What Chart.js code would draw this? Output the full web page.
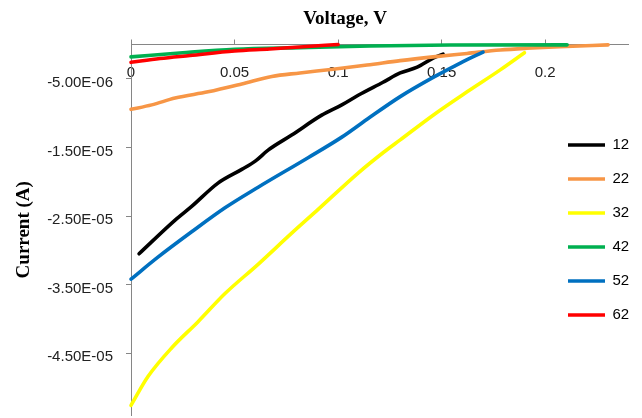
<!DOCTYPE html>
<html>
<head>
<meta charset="utf-8">
<script src="https://cdn.jsdelivr.net/npm/chart.js@4.4.1/dist/chart.umd.min.js"></script>
<style>
  html, body { margin: 0; padding: 0; background: #fff; overflow: hidden; }
  #wrap { position: relative; width: 642px; height: 418px; }
</style>
</head>
<body>
<div id="wrap"><canvas id="c"></canvas></div>
<script>
// ---- data (Voltage in V, Current in A) ----
const seriesNames = ['12', '22', '32', '42', '52', '62'];
const seriesColors = ['#000000', '#F79646', '#FFFF00', '#00B050', '#0070C0', '#FF0000'];

const volt12 = [0.0039, 0.0213, 0.0293, 0.042, 0.0535, 0.060, 0.0662, 0.0776, 0.0921, 0.1018, 0.1097, 0.1217, 0.130, 0.1382, 0.1459, 0.1507];
const curr12 = [-3.05e-5, -2.56e-5, -2.36e-5, -2.02e-5, -1.82e-5, -1.70e-5, -1.54e-5, -1.32e-5, -1.03e-5, -8.8e-6, -7.4e-6, -5.5e-6, -4.15e-6, -3.3e-6, -1.97e-6, -1.4e-6];

const volt22 = [0, 0.010, 0.0213, 0.0372, 0.0535, 0.068, 0.0816, 0.0976, 0.114, 0.130, 0.1459, 0.1623, 0.1783, 0.191, 0.207, 0.2304];
const curr22 = [-9.45e-6, -8.8e-6, -7.8e-6, -6.9e-6, -5.75e-6, -4.65e-6, -4.15e-6, -3.6e-6, -3.0e-6, -2.35e-6, -1.8e-6, -1.3e-6, -8.0e-7, -5.5e-7, -3.2e-7, -5.0e-8];

const volt32 = [0, 0.0082, 0.0197, 0.0324, 0.0454, 0.0615, 0.0776, 0.0905, 0.1098, 0.122, 0.130, 0.1459, 0.1623, 0.1783, 0.190];
const curr32 = [-5.26e-5, -4.84e-5, -4.42e-5, -4.04e-5, -3.63e-5, -3.20e-5, -2.75e-5, -2.40e-5, -1.87e-5, -1.57e-5, -1.39e-5, -1.03e-5, -6.9e-6, -3.7e-6, -1.2e-6];

const volt42 = [0, 0.025, 0.050, 0.0816, 0.1155, 0.154, 0.2106];
const curr42 = [-1.8e-6, -1.2e-6, -7.0e-7, -4.5e-7, -2.2e-7, -7.0e-8, -5.0e-8];

const volt52 = [0, 0.013, 0.0293, 0.0454, 0.0614, 0.0855, 0.1018, 0.114, 0.130, 0.1459, 0.159, 0.170];
const curr52 = [-3.42e-5, -3.10e-5, -2.73e-5, -2.38e-5, -2.08e-5, -1.65e-5, -1.35e-5, -1.09e-5, -7.6e-6, -4.8e-6, -2.7e-6, -1.1e-6];

const volt62 = [0, 0.014, 0.0285, 0.050, 0.067, 0.0816, 0.100];
const curr62 = [-2.6e-6, -2.04e-6, -1.6e-6, -9.5e-7, -6.6e-7, -3.6e-7, 0];

const voltTicks = [0, 0.05, 0.1, 0.15, 0.2];
const currTicks = [-5e-6, -1.5e-5, -2.5e-5, -3.5e-5, -4.5e-5];

const allVolt = [volt12, volt22, volt32, volt42, volt52, volt62];
const allCurr = [curr12, curr22, curr32, curr42, curr52, curr62];

function sci(v) {
  const s = v.toExponential(2).toUpperCase();
  return s.replace(/E([+-])(\d)$/, 'E$10$2');
}

const datasets = seriesNames.map((name, k) => ({
  label: name,
  data: allVolt[k].map((v, j) => ({ x: v, y: allCurr[k][j] })),
  borderColor: seriesColors[k],
  backgroundColor: seriesColors[k],
  borderWidth: 3.6,
  borderCapStyle: 'round',
  borderJoinStyle: 'round',
  pointRadius: 0,
  fill: false,
  cubicInterpolationMode: 'monotone',
  clip: false,
  order: seriesNames.length - k
}));

const axisGray = '#868686';
const sansFont = "'Liberation Sans', Arial, sans-serif";
const serifFont = "'Liberation Serif', 'Times New Roman', serif";

const placeBoxes = {
  id: 'placeBoxes',
  afterLayout(chart) {
    const t = chart.titleBlock;
    if (t) { t.left = 48; t.right = 642; }
    const lg = chart.legend;
    if (lg) {
      const w = lg.width, h = lg.height;
      lg.left = 549; lg.right = lg.left + w;
      lg.top = 118.5; lg.bottom = lg.top + Math.max(h, 230);
    }
  }
};

new Chart(document.getElementById('c'), {
  type: 'line',
  data: { datasets },
  plugins: [placeBoxes],
  options: {
    responsive: true,
    maintainAspectRatio: false,
    animation: false,
    layout: { padding: { left: 0, right: 14, top: 0, bottom: 3 } },
    plugins: {
      title: {
        display: true,
        text: 'Voltage, V',
        color: '#000',
        font: { family: serifFont, size: 19, weight: 'bold' },
        padding: { top: 8, bottom: 0 }
      },
      legend: {
        display: true,
        position: 'chartArea',
        align: 'start',
        labels: {
          usePointStyle: true,
          pointStyle: 'line',
          pointStyleWidth: 37,
          color: '#000',
          font: { family: sansFont, size: 15 },
          padding: 19,
          sort: (a, b) => a.datasetIndex - b.datasetIndex
        }
      },
      tooltip: { enabled: false }
    },
    scales: {
      x: {
        type: 'linear',
        position: 'top',
        min: 0,
        max: 0.24,
        afterBuildTicks: s => { s.ticks = voltTicks.map(v => ({ value: v })); },
        afterFit: s => { s.height = 13.7; s.paddingLeft = 0; s.paddingRight = 0; },
        grid: { drawOnChartArea: false, drawTicks: true, tickLength: 5, color: axisGray },
        border: { display: true, color: axisGray, width: 1 },
        ticks: {
          mirror: true,
          padding: 19,
          color: '#222',
          font: { family: sansFont, size: 15 },
          maxRotation: 0,
          autoSkip: false,
          callback: v => String(v)
        },
        title: { display: false }
      },
      y: {
        type: 'linear',
        position: 'left',
        min: -5.4e-5,
        max: 0,
        afterBuildTicks: s => { s.ticks = currTicks.map(v => ({ value: v })); },
        afterFit: s => { s.width = 131; s.paddingTop = 0; s.paddingBottom = 0; },
        grid: { drawOnChartArea: false, drawTicks: true, tickLength: 5, color: axisGray },
        border: { display: true, color: axisGray, width: 1 },
        ticks: {
          padding: 13,
          labelOffset: 4,
          color: '#222',
          font: { family: sansFont, size: 15 },
          autoSkip: false,
          callback: v => sci(v)
        },
        title: {
          display: true,
          text: 'Current (A)',
          color: '#000',
          font: { family: serifFont, size: 19, weight: 'bold' },
          padding: { top: 13, bottom: 0 }
        }
      }
    }
  }
});
</script>
</body>
</html>
